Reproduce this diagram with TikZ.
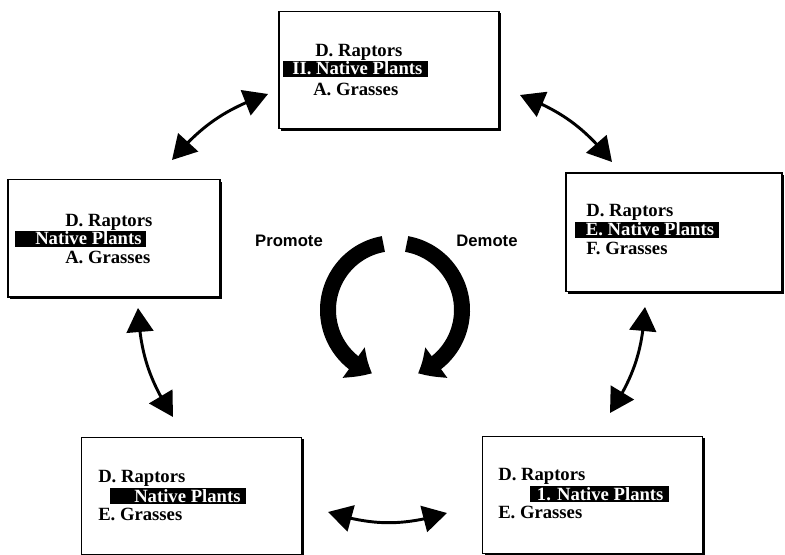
\documentclass[tikz,border=0pt]{standalone}
\usepackage{fontspec}
\setmainfont{Liberation Serif}
\setsansfont{Liberation Sans}
\usetikzlibrary{arrows.meta,bending}

\tikzset{
  screen/.style={draw,line width=1pt,fill=white,minimum width=165pt,minimum height=88pt,
    preaction={fill=black,transform canvas={xshift=1.6pt,yshift=-1.6pt}}},
  entry/.style={anchor=base west,inner sep=0pt,font=\fontsize{14}{16}\selectfont\bfseries},
  picked/.style={entry,fill=black,text=white,text height=10pt,text depth=1pt,inner ysep=0.5pt},
  link/.style={line width=2.2pt,{Triangle[length=18pt,width=20pt]}-{Triangle[length=18pt,width=20pt]}},
  swing/.style={line width=12pt,-{Triangle[length=16pt,width=27pt,bend]}},
  tag/.style={font=\fontsize{12.5}{14}\selectfont\sffamily\bfseries}
}

\begin{document}
\begin{tikzpicture}[x=0.75pt,y=0.75pt]
  \useasboundingbox (0,0) rectangle (785,554);

  % the five outline screens
  \node[screen] (top) at (389,484) {};
  \node[screen,minimum width=159pt] (left) at (114,315.5) {};
  \node[screen,minimum width=162pt,minimum height=89pt] (right) at (674,321.5) {};
  \node[screen] (botleft) at (191.5,58) {};
  \node[screen] (botright) at (592.5,59) {};

  % top screen
  \node[entry] (top-d) at (315,497) {D. Raptors};
  \node[picked] (top-np) at (283,479) {\hspace*{6.75pt}II. Native Plants\hspace*{4pt}};
  \node[entry] (top-g) at (313,458) {A. Grasses};

  % left screen
  \node[entry] (left-d) at (65,327) {D. Raptors};
  \node[picked] (left-np) at (15,309) {\hspace*{15pt}Native Plants\hspace*{3pt}};
  \node[entry] (left-g) at (65,291) {A. Grasses};

  % right screen
  \node[entry] (right-d) at (586,337) {D. Raptors};
  \node[picked] (right-np) at (575,318) {\hspace*{8pt}E. Native Plants\hspace*{4pt}};
  \node[entry] (right-g) at (586,299) {F. Grasses};

  % bottom left screen
  \node[entry] (botleft-d) at (98,72) {D. Raptors};
  \node[picked] (botleft-np) at (110,52) {\hspace*{18pt}Native Plants\hspace*{4pt}};
  \node[entry] (botleft-g) at (98,34) {E. Grasses};

  % bottom right screen
  \node[entry] (botright-d) at (498,74) {D. Raptors};
  \node[picked] (botright-np) at (530,54) {\hspace*{5pt}1. Native Plants\hspace*{4pt}};
  \node[entry] (botright-g) at (498,36) {E. Grasses};

  % ends of the arrows between screens
  \coordinate (tl-a) at (172,394);
  \coordinate (tl-b) at (268,460);
  \coordinate (tr-a) at (520,459);
  \coordinate (tr-b) at (612,392);
  \coordinate (lb-a) at (138,246);
  \coordinate (lb-b) at (173,137);
  \coordinate (rb-a) at (645,247);
  \coordinate (rb-b) at (610,141);
  \coordinate (bb-a) at (328,42);
  \coordinate (bb-b) at (447,41);

  \draw[link] (tl-a) to[bend left=15] (tl-b);
  \draw[link] (tr-a) to[bend left=15] (tr-b);
  \draw[link] (lb-a) to[bend right=15] (lb-b);
  \draw[link] (rb-a) to[bend left=15] (rb-b);
  \draw[link] (bb-a) to[bend right=17] (bb-b);

  % promote / demote in the middle
  \coordinate (hub) at (395,244);
  \draw[swing] (hub) ++(100:67) arc[start angle=100,end angle=250,radius=67];
  \draw[swing] (hub) ++(80:67) arc[start angle=80,end angle=-70,radius=67];
  \node[tag] (promote) at (289,313) {Promote};
  \node[tag] (demote) at (487,313) {Demote};
\end{tikzpicture}
\end{document}
